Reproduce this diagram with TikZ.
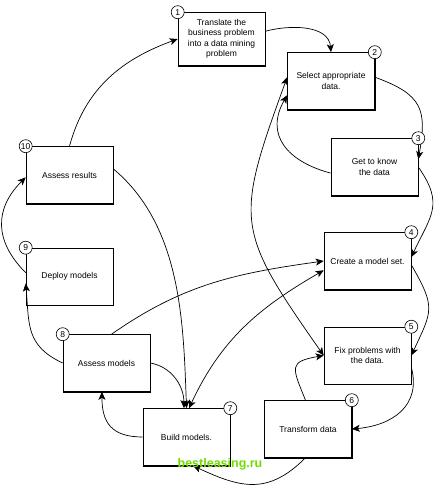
\documentclass[tikz,border=0pt]{standalone}
\usepackage{fontspec}
\setmainfont{Liberation Sans}
\usepackage{xcolor}
\usetikzlibrary{arrows.meta,positioning,calc}

\definecolor{wmgreen}{RGB}{110,220,0}

\tikzset{
  stepbox/.style={draw, line width=0.6pt, fill=white, minimum width=87pt,
    minimum height=57pt, align=center, inner sep=2pt,
    font=\fontsize{8.5}{10.5}\selectfont},
  numdot/.style={draw, circle, fill=white, line width=0.6pt, inner sep=0pt,
    minimum size=13pt, font=\fontsize{8.5}{8.5}\selectfont},
  flow/.style={line width=0.7pt, -{Stealth[length=8pt,width=7pt,inset=2pt]}},
  dflow/.style={line width=0.7pt, {Stealth[length=8pt,width=7pt,inset=2pt]}-{Stealth[length=8pt,width=7pt,inset=2pt]}}
}

\begin{document}
\begin{tikzpicture}[x=1pt,y=1pt]
  \useasboundingbox (0,0) rectangle (440,492);
  % the ten steps
  \node[stepbox, minimum height=53pt] (b1) at (221.5,453) {Translate the\\business problem\\into a data mining\\problem};
  \node[stepbox] (b2) at (331,411) {Select appropriate\\data.};
  \node[stepbox] (b3) at (374.5,325) {Get to know\\the data};
  \node[stepbox] (b4) at (367.5,231) {Create a model set.};
  \node[stepbox] (b5) at (367.5,136.5) {Fix problems with\\the data.};
  \node[stepbox] (b6) at (308,63) {Transform data};
  \node[stepbox] (b7) at (186.5,55) {Build models.};
  \node[stepbox] (b8) at (106.5,129) {Assess models};
  \node[stepbox] (b9) at (69.5,215.5) {Deploy models};
  \node[stepbox] (b10) at (69.5,317) {Assess results};
  \foreach \b in {b1,b2,b3,b4,b5,b6,b7,b8,b9,b10} {
    \draw[line width=1.5pt] (\b.north east) -- (\b.south east) -- (\b.south west);
  }

  % connectors
  \draw[flow] (b10.north) to[out=75,in=200] (b1.west);
  \draw[flow] (b1.10) to[out=15,in=95] (b2.north);
  \draw[flow] (b2.5) to[out=-20,in=80,looseness=1.4] (b3.10);
  \draw[flow] (b3.188) to[out=165,in=240,looseness=1.3] (b2.198);
  \draw[flow] (b3.east) to[out=-55,in=65,looseness=1.3] (b4.5);
  \draw[flow] (b4.-5) to[out=-60,in=65,looseness=1.4] (b5.east);
  \draw[flow] (b5.-15) to[out=-75,in=5,looseness=1.2] (b6.east);
  \draw[flow] (b6.95) to[out=112,in=190,looseness=1.9] (b5.west);
  \draw[flow] (b6.265) to[out=225,in=-25,looseness=1.2] (b7.-77);
  \draw[flow] (b7.west) to[out=180,in=-90,looseness=1.3] (b8.-99);
  \draw[flow] (b8.east) to[out=-10,in=90] (b7.95);
  \draw[flow] (b10.8) to[out=-40,in=92,looseness=0.9] (b7.north);
  \draw[flow] (b8.80) to[out=35,in=188] (b4.west);
  \draw[dflow] (b7.85) to[out=65,in=210] (b4.192);
  \draw[dflow] (b2.175) to[out=-110,in=125,looseness=1.4] (b5.west);
  \draw[flow] (b8.west) to[out=155,in=-85,looseness=1.2] (b9.189);
  \draw[flow] (b9.175) to[out=135,in=225,looseness=1.2] (b10.183);

  % step numbers
  \foreach \b/\c/\n in {b1/north west/1, b2/north east/2, b3/north east/3,
      b4/north east/4, b5/north east/5, b6/north east/6, b7/north east/7,
      b8/north west/8, b9/north west/9, b10/north west/10} {
    \node[numdot] (n\n) at (\b.\c) {\n};
  }

  \node[font=\bfseries\fontsize{12.5}{12.5}\selectfont, text=wmgreen] (wm) at (220,28) {bestleasing.ru};
\end{tikzpicture}
\end{document}
